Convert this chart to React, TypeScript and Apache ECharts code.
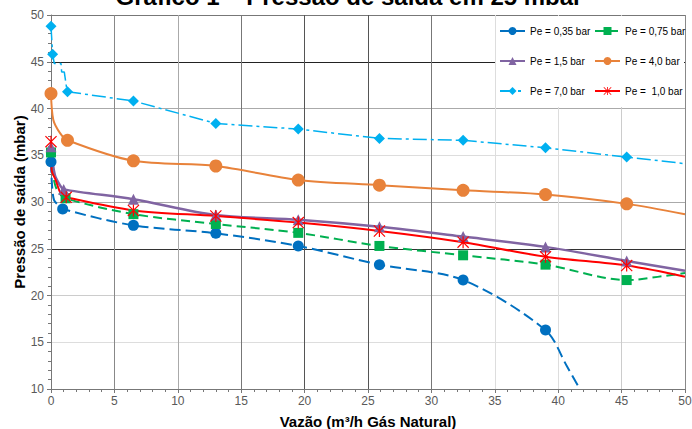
import React, { useEffect, useRef } from "react";
import * as echarts from "echarts";

const FONT = '"Liberation Sans", Arial, sans-serif';

const titleText = "Gráfico 1 – Pressão de saída em 25 mbar";
const xAxisName = "Vazão (m³/h Gás Natural)";
const yAxisName = "Pressão de saída (mbar)";

const seriesNames = ["Pe = 0,35 bar", "Pe = 0,75 bar", "Pe = 1,5 bar", "Pe = 4,0 bar", "Pe = 7,0 bar", "Pe =  1,0 bar"];

// measured points (with markers)
const x035 = [0, 0.92, 6.5, 13, 19.5, 25.9, 32.5, 39.0];
const y035 = [34.3, 29.25, 27.5, 26.65, 25.3, 23.3, 21.65, 16.3];
const x075 = [0, 1.15, 6.5, 13, 19.5, 25.9, 32.5, 39.0, 45.4];
const y075 = [35.3, 30.4, 28.7, 27.65, 26.7, 25.3, 24.3, 23.3, 21.65];
const x15 = [0, 1.0, 6.5, 13, 19.5, 25.9, 32.5, 39.0, 45.4];
const y15 = [35.9, 31.35, 30.3, 28.6, 28.1, 27.35, 26.3, 25.2, 23.7];
const x40 = [0, 1.3, 6.5, 13, 19.5, 25.9, 32.5, 39.0, 45.4];
const y40 = [41.6, 36.6, 34.4, 33.85, 32.35, 31.8, 31.25, 30.8, 29.8];
const x70 = [0, 0.13, 1.3, 6.5, 13, 19.5, 25.9, 32.5, 39.0, 45.4];
const y70 = [48.8, 45.8, 41.8, 40.8, 38.4, 37.8, 36.8, 36.6, 35.8, 34.8];
const x10 = [0, 1.2, 6.5, 13, 19.5, 25.9, 32.5, 39.0, 45.4];
const y10 = [36.45, 30.5, 29.1, 28.5, 27.8, 26.9, 25.7, 24.15, 23.2];

// curve-only points (no markers)
const cx035 = [0.08, 0.24, 0.55, 40.7, 41.7];
const cy035 = [31.8, 30.2, 29.7, 12.4, 10];
const cx075 = [0.16, 0.47, 46.2, 50];
const cy075 = [32.9, 31.3, 21.7, 22.4];
const cx15 = [0.3, 0.7, 50];
const cy15 = [32.9, 31.8, 22.65];
const cx40 = [0.18, 0.7, 50];
const cy40 = [38.8, 37.4, 28.7];
const cx70 = [0.26, 0.79, 0.84, 1.05, 1.23, 50];
const cy70 = [44.8, 44.8, 43.9, 43.9, 42.2, 34.1];
const cx10 = [0.05, 0.37, 0.58, 0.84, 50];
const cy10 = [33.4, 32.35, 31.5, 30.75, 22.0];

const xTicks = [0, 5, 10, 15, 20, 25, 30, 35, 40, 45, 50];
const yTicks = [10, 15, 20, 25, 30, 35, 40, 45, 50];

const ASTERISK =
  "path://M9,0 L11,0 L11,20 L9,20 Z M0,1.4 L1.4,0 L20,18.6 L18.6,20 Z M18.6,0 L20,1.4 L1.4,20 L0,18.6 Z";

function build(xs: number[], ys: number[], cxs: number[], cys: number[]) {
  const pts: any[] = [];
  xs.forEach((x, i) => pts.push({ value: [x, ys[i]] }));
  cxs.forEach((x, i) => pts.push({ value: [x, cys[i]], symbol: "none" }));
  pts.sort((a, b) => a.value[0] - b.value[0]);
  return pts;
}

export default function App() {
  const ref = useRef<HTMLDivElement>(null);
  useEffect(() => {
    if (!ref.current) return;
    const chart = echarts.init(ref.current, null, { renderer: "svg" });
    const mk = (
      name: string,
      data: any[],
      color: string,
      symbol: string,
      size: number,
      lineType: any,
      smooth: any,
      width = 2
    ) => ({
      name,
      type: "line",
      data,
      smooth,
      symbol,
      symbolSize: size,
      clip: true,
      lineStyle: { color, width, type: lineType },
      itemStyle: { color, borderWidth: 0 },
      emphasis: { disabled: true },
    });
    const series = [
      mk(seriesNames[0], build(x035, y035, cx035, cy035), "#0070C0", "circle", 11, [11, 5], 0.3),
      mk(seriesNames[1], build(x075, y075, cx075, cy075), "#00B050", "rect", 10, [9, 5], 0.3),
      mk(seriesNames[2], build(x15, y15, cx15, cy15), "#8064A2", "triangle", 11, "solid", 0.3, 2.5),
      mk(seriesNames[3], build(x40, y40, cx40, cy40), "#E8823A", "circle", 13, "solid", 0.3),
      mk(seriesNames[4], build(x70, y70, cx70, cy70), "#00B0F0", "diamond", 11, [14, 4, 3, 4], false, 1.5),
      mk(seriesNames[5], build(x10, y10, cx10, cy10), "#FF0000", ASTERISK, 12, "solid", 0.3),
    ];
    const legendBase = {
      orient: "vertical",
      itemWidth: 25,
      itemHeight: 10,
      itemGap: 20,
      padding: 0,
      textStyle: { fontFamily: FONT, fontSize: 10, color: "#000" },
      selectedMode: false,
    };
    chart.setOption({
      animation: false,
      grid: { left: 51, right: 7, top: 15, bottom: 40, outerBoundsMode: "none", containLabel: false },
      graphic: [
        {
          type: "rect",
          z: 1,
          shape: { x: 496, y: 16, width: 188, height: 91 },
          style: { fill: "#fff" },
        },
        {
          type: "text",
          z: 10,
          style: {
            text: titleText,
            x: 349,
            y: -4,
            align: "center",
            verticalAlign: "middle",
            fontFamily: FONT,
            fontWeight: "bold",
            fontSize: 24,
            fill: "#000",
          },
        },
      ],
      legend: [
        { ...legendBase, left: 499, top: 26, data: [seriesNames[0], seriesNames[2], seriesNames[4]] },
        { ...legendBase, left: 594, top: 26, data: [seriesNames[1], seriesNames[3], seriesNames[5]] },
      ],
      xAxis: {
        type: "value",
        min: xTicks[0],
        max: xTicks[xTicks.length - 1],
        interval: 5,
        name: xAxisName,
        nameLocation: "middle",
        nameGap: 25,
        nameMoveOverlap: false,
        nameTextStyle: { fontFamily: FONT, fontSize: 15, fontWeight: "bold", color: "#000", verticalAlign: "top" },
        axisLine: { show: true, lineStyle: { color: "#777", width: 1 } },
        axisTick: { show: true, length: 4, lineStyle: { color: "#777" } },
        minorTick: { show: true, splitNumber: 5, length: 3, lineStyle: { color: "#777" } },
        axisLabel: { fontFamily: FONT, fontSize: 12, color: "#595959", margin: 6 },
        splitLine: {
          show: true,
          lineStyle: {
            color: ["#888", "#888", "#aaa", "#777", "#555", "#555", "#777", "#ddd", "#ddd", "#ccc", "#888"],
            width: 1,
          },
        },
      },
      yAxis: {
        type: "value",
        min: yTicks[0],
        max: yTicks[yTicks.length - 1],
        interval: 5,
        name: yAxisName,
        nameLocation: "middle",
        nameGap: 24,
        nameMoveOverlap: false,
        nameTextStyle: { fontFamily: FONT, fontSize: 15, fontWeight: "bold", color: "#000" },
        axisLine: { show: true, lineStyle: { color: "#777", width: 1 } },
        axisTick: { show: true, length: 4, lineStyle: { color: "#777" } },
        minorTick: { show: true, splitNumber: 5, length: 3, lineStyle: { color: "#777" } },
        axisLabel: { fontFamily: FONT, fontSize: 12, color: "#595959", margin: 7 },
        splitLine: {
          show: true,
          lineStyle: {
            color: ["#888", "#ddd", "#ccc", "#333", "#aaa", "#ddd", "#aaa", "#222", "#777"],
            width: 1,
          },
        },
      },
      series,
    });
    return () => chart.dispose();
  }, []);
  return (
    <div
      ref={ref}
      style={{ position: "absolute", left: 0, top: 0, width: 692, height: 429, background: "#fff" }}
    />
  );
}
